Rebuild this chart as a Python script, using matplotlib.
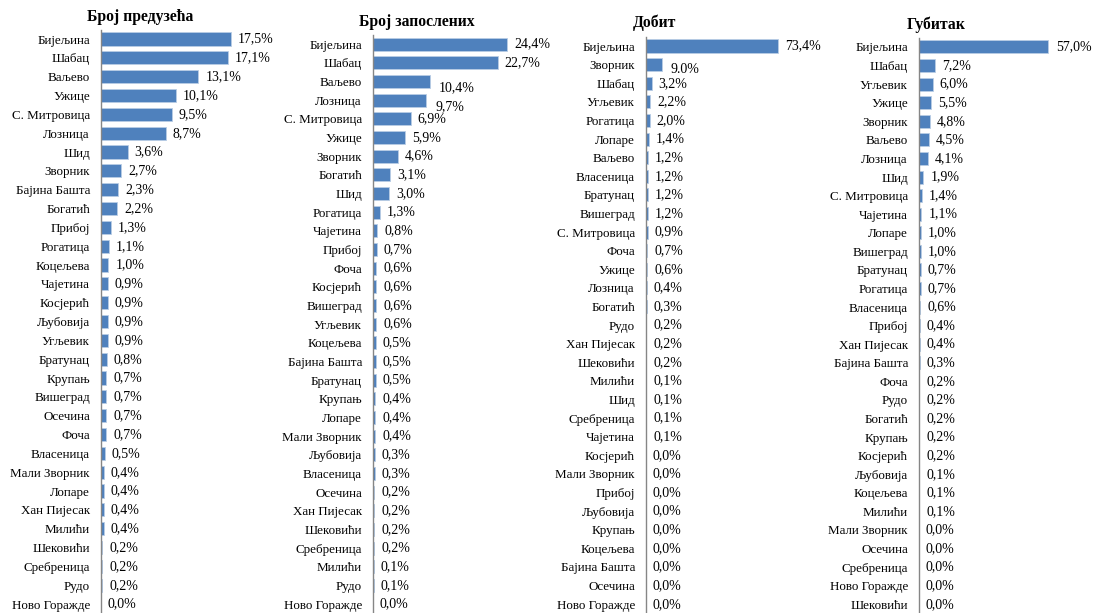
import matplotlib
matplotlib.use("Agg")
import matplotlib.pyplot as plt

# =========================
# PODACI
# =========================
preduzeca_gradovi = ["Бијељина", "Шабац", "Ваљево", "Ужице", "С. Митровица", "Лозница", "Шид",
                     "Зворник", "Бајина Башта", "Богатић", "Прибој", "Рогатица", "Коцељева",
                     "Чајетина", "Косјерић", "Љубовија", "Угљевик", "Братунац", "Крупањ",
                     "Вишеград", "Осечина", "Фоча", "Власеница", "Мали Зворник", "Лопаре",
                     "Хан Пијесак", "Милићи", "Шековићи", "Сребреница", "Рудо", "Ново Горажде"]
preduzeca_vrednosti = [17.5, 17.1, 13.1, 10.1, 9.5, 8.7, 3.6, 2.7, 2.3, 2.2, 1.3, 1.1, 1.0, 0.9,
                       0.9, 0.9, 0.9, 0.8, 0.7, 0.7, 0.7, 0.7, 0.5, 0.4, 0.4, 0.4, 0.4, 0.2,
                       0.2, 0.2, 0.0]

zaposleni_gradovi = ["Бијељина", "Шабац", "Ваљево", "Лозница", "С. Митровица", "Ужице", "Зворник",
                     "Богатић", "Шид", "Рогатица", "Чајетина", "Прибој", "Фоча", "Косјерић",
                     "Вишеград", "Угљевик", "Коцељева", "Бајина Башта", "Братунац", "Крупањ",
                     "Лопаре", "Мали Зворник", "Љубовија", "Власеница", "Осечина", "Хан Пијесак",
                     "Шековићи", "Сребреница", "Милићи", "Рудо", "Ново Горажде"]
zaposleni_vrednosti = [24.4, 22.7, 10.4, 9.7, 6.9, 5.9, 4.6, 3.1, 3.0, 1.3, 0.8, 0.7, 0.6, 0.6,
                       0.6, 0.6, 0.5, 0.5, 0.5, 0.4, 0.4, 0.4, 0.3, 0.3, 0.2, 0.2, 0.2, 0.2,
                       0.1, 0.1, 0.0]

dobit_gradovi = ["Бијељина", "Зворник", "Шабац", "Угљевик", "Рогатица", "Лопаре", "Ваљево",
                 "Власеница", "Братунац", "Вишеград", "С. Митровица", "Фоча", "Ужице", "Лозница",
                 "Богатић", "Рудо", "Хан Пијесак", "Шековићи", "Милићи", "Шид", "Сребреница",
                 "Чајетина", "Косјерић", "Мали Зворник", "Прибој", "Љубовија", "Крупањ",
                 "Коцељева", "Бајина Башта", "Осечина", "Ново Горажде"]
dobit_vrednosti = [73.4, 9.0, 3.2, 2.2, 2.0, 1.4, 1.2, 1.2, 1.2, 1.2, 0.9, 0.7, 0.6, 0.4, 0.3,
                   0.2, 0.2, 0.2, 0.1, 0.1, 0.1, 0.1, 0.0, 0.0, 0.0, 0.0, 0.0, 0.0, 0.0, 0.0, 0.0]

gubitak_gradovi = ["Бијељина", "Шабац", "Угљевик", "Ужице", "Зворник", "Ваљево", "Лозница", "Шид",
                   "С. Митровица", "Чајетина", "Лопаре", "Вишеград", "Братунац", "Рогатица",
                   "Власеница", "Прибој", "Хан Пијесак", "Бајина Башта", "Фоча", "Рудо",
                   "Богатић", "Крупањ", "Косјерић", "Љубовија", "Коцељева", "Милићи",
                   "Мали Зворник", "Осечина", "Сребреница", "Ново Горажде", "Шековићи"]
gubitak_vrednosti = [57.0, 7.2, 6.0, 5.5, 4.8, 4.5, 4.1, 1.9, 1.4, 1.1, 1.0, 1.0, 0.7, 0.7, 0.6,
                     0.4, 0.4, 0.3, 0.2, 0.2, 0.2, 0.2, 0.2, 0.1, 0.1, 0.1, 0.0, 0.0, 0.0, 0.0,
                     0.0]

naslovi = ["Број предузећа", "Број запослених", "Добит", "Губитак"]

# =========================
# IZGLED
# =========================
W, H = 1101, 613
BOJA = "#4F81BD"
plt.rcParams["font.family"] = ["Liberation Serif", "DejaVu Serif"]

# (levo px, vrh px, px po jedinici, naslov x, naslov y)
paneli = [
    (101, 29.6, 130 / 17.5, 140, 17),
    (373, 34.7, 134 / 24.4, 417, 22),
    (646, 36.7, 132 / 73.4, 654, 23),
    (919, 37.7, 129 / 57.0, 936, 25),
]
SIRINA = 165


def decimalni_zarez(v):
    return f"{v:.1f}".replace(".", ",") + "%"


def crtaj(fig, gradovi, vrednosti, naslov, panel, oznake=None, pomeraj=None):
    levo, vrh, px_jed, tx, ty = panel
    dno = 613.5
    ax = fig.add_axes([levo / W, 1 - dno / H, SIRINA / W, (dno - vrh) / H])
    y = list(range(len(gradovi)))
    ax.barh(y, vrednosti, height=0.7, color=BOJA, edgecolor="#b9cde5", linewidth=0.6)
    ax.set_xlim(0, SIRINA / px_jed)
    ax.set_ylim(len(gradovi) - 0.5, -0.5)
    ax.set_yticks(y)
    ax.set_yticklabels(gradovi, fontsize=9.4)
    ax.tick_params(axis="y", length=0, pad=8)
    ax.set_xticks([])
    for s in ["top", "right", "bottom"]:
        ax.spines[s].set_visible(False)
    ax.spines["left"].set_color("#868686")
    ax.spines["left"].set_linewidth(1.0)
    pomeraj = pomeraj or {}
    for i, v in enumerate(vrednosti):
        tekst = oznake[i] if oznake else decimalni_zarez(v)
        dx, dy = pomeraj.get(i, (5, 0))
        ax.annotate(tekst, (v, i), xytext=(dx, dy), textcoords="offset points",
                    va="center", ha="left", fontsize=10)
    fig.text(tx / W, 1 - ty / H, naslov, ha="center", va="center",
             fontsize=11.3, fontweight="bold")


fig = plt.figure(figsize=(W / 100, H / 100), dpi=100)

crtaj(fig, preduzeca_gradovi, preduzeca_vrednosti, naslovi[0], paneli[0])
# Excel je neke oznake malo pomerio nadole
crtaj(fig, zaposleni_gradovi, zaposleni_vrednosti, naslovi[1], paneli[1],
      pomeraj={2: (6.5, -4.5), 3: (6.5, -4.5)})
dobit_oznake = [decimalni_zarez(v) for v in dobit_vrednosti]
dobit_oznake[1] = "9.0%"
crtaj(fig, dobit_gradovi, dobit_vrednosti, naslovi[2], paneli[2], dobit_oznake,
      pomeraj={1: (6, -3.5)})
crtaj(fig, gubitak_gradovi, gubitak_vrednosti, naslovi[3], paneli[3],
      pomeraj={0: (6, 0)})

fig.savefig("out.png", dpi=100)
